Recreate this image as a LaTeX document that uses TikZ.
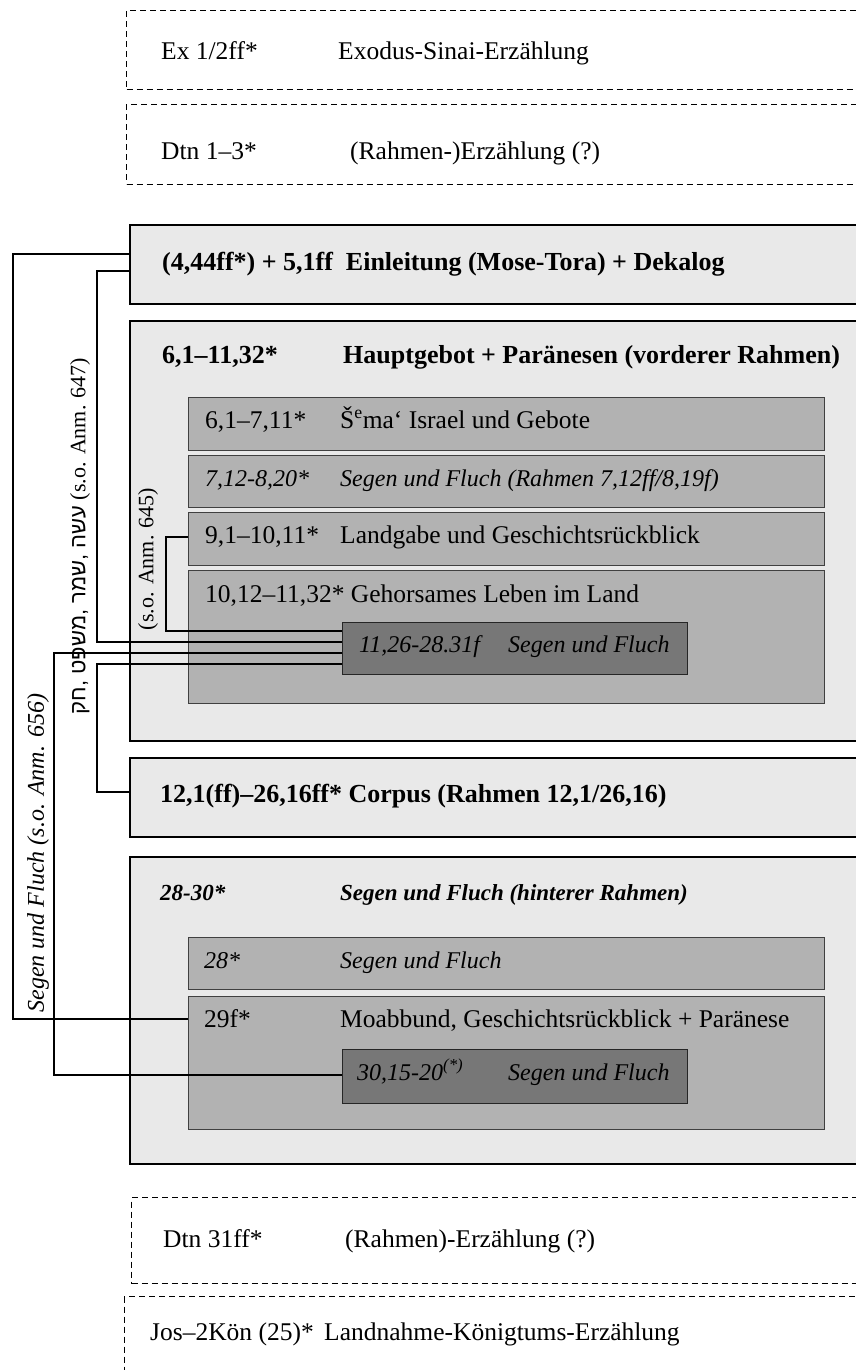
\documentclass[tikz,border=0pt]{standalone}
\usepackage{fontspec}
\setmainfont{Liberation Serif}
\newfontfamily\hebfont[Script=Hebrew]{Liberation Sans}
\TeXXeTstate=1
\definecolor{colOuter}{RGB}{233,233,233}
\definecolor{colInner}{RGB}{178,178,178}
\definecolor{colCore}{RGB}{119,119,119}

\begin{document}
\begin{tikzpicture}[
    x=1pt, y=-1pt,
    every node/.style={inner sep=0pt},
    dashbox/.style={draw, dash pattern=on 6pt off 4pt, line width=1pt, anchor=north west, minimum width=800pt},
    outer/.style={draw, line width=2pt, fill=colOuter, anchor=north west, minimum width=800pt},
    inner/.style={draw=black!75, line width=1pt, fill=colInner, anchor=north west, minimum width=636pt},
    core/.style={draw=black!85, line width=1pt, fill=colCore, anchor=north west, minimum width=345pt},
    txt/.style={anchor=base west, font=\fontsize{25.5}{30}\selectfont},
    itx/.style={anchor=base west, font=\fontsize{24}{28}\selectfont\itshape},
    bfx/.style={anchor=base west, font=\fontsize{26}{30}\selectfont\bfseries},
    bix/.style={anchor=base west, font=\fontsize{23}{27}\selectfont\bfseries\itshape},
    conn/.style={line width=2pt}
]
    \clip (0,0) rectangle (856,1370);

    % narrative frames
    \node[dashbox, minimum height=79pt] (exo) at (126,10) {};
    \node[dashbox, minimum height=80pt] (dtnA) at (126,104) {};
    \node[dashbox, minimum height=86pt] (dtnB) at (131,1197) {};
    \node[dashbox, minimum height=90pt] (jos) at (124,1296) {};

    % main blocks
    \node[outer, minimum height=79pt] (einl) at (129,224) {};
    \node[outer, minimum height=420pt] (haupt) at (129,320) {};
    \node[outer, minimum height=79pt] (corp) at (129,757) {};
    \node[outer, minimum height=307pt] (hint) at (129,856) {};

    \foreach \n/\y/\h in {sema/397/53, segA/455/52, land/512/53, geh/570/133, segB/937/52, moab/996/133} {
        \node[inner, minimum height=\h pt] (\n) at (188,\y) {};
    }
    \node[core, minimum height=52pt] (fluchA) at (342,622) {};
    \node[core, minimum height=54pt] (fluchB) at (342,1049) {};

    % texts
    \node[txt] (exoN) at (161,60) {Ex 1/2ff*};
    \node[txt] (exoT) at (338,60) {Exodus-Sinai-Erzählung};
    \node[txt] (dtnAN) at (161,160) {Dtn 1–3*};
    \node[txt] (dtnAT) at (350,160) {(Rahmen-)Erzählung (?)};
    \node[bfx] (einlT) at (162,270) {(4,44ff*) + 5,1ff\ \ Einleitung (Mose-Tora) + Dekalog};
    \node[bfx] (hauptN) at (162,363) {6,1–11,32*};
    \node[bfx] (hauptT) at (343,363) {Hauptgebot + Paränesen (vorderer Rahmen)};
    \node[txt] (semaN) at (205,428) {6,1–7,11*};
    \node[txt] (semaT) at (340,428) {Š\textsuperscript{e}ma‘ Israel und Gebote};
    \node[itx] (segAN) at (205,486) {7,12-8,20*};
    \node[itx] (segAT) at (340,486) {Segen und Fluch (Rahmen 7,12ff/8,19f)};
    \node[txt] (landN) at (205,543) {9,1–10,11*};
    \node[txt] (landT) at (340,543) {Landgabe und Geschichtsrückblick};
    \node[txt] (gehT) at (205,602) {10,12–11,32* Gehorsames Leben im Land};
    \node[itx] (fluchAN) at (359,652) {11,26-28.31f};
    \node[itx] (fluchAT) at (508,652) {Segen und Fluch};
    \node[bfx] (corpT) at (160,802) {12,1(ff)–26,16ff* Corpus (Rahmen 12,1/26,16)};
    \node[bix] (hintN) at (160,900) {28-30*};
    \node[bix] (hintT) at (340,900) {Segen und Fluch (hinterer Rahmen)};
    \node[itx] (segBN) at (204,968) {28*};
    \node[itx] (segBT) at (340,968) {Segen und Fluch};
    \node[txt] (moabN) at (204,1027) {29f*};
    \node[txt] (moabT) at (340,1027) {Moabbund, Geschichtsrückblick + Paränese};
    \node[itx] (fluchBN) at (357,1080) {30,15-20\textsuperscript{(*)}};
    \node[itx] (fluchBT) at (508,1080) {Segen und Fluch};
    \node[txt] (dtnBN) at (163,1247) {Dtn 31ff*};
    \node[txt] (dtnBT) at (345,1247) {(Rahmen)-Erzählung (?)};
    \node[txt] (josN) at (150,1340) {Jos–2Kön (25)*};
    \node[txt] (josT) at ([xshift=10pt]josN.base east) {Landnahme-Königtums-Erzählung};

    % side notes
    \node[rotate=90, font=\fontsize{24}{28}\selectfont\itshape] (n656) at (38,853) {Segen und Fluch (s.o. Anm. 656)};
    \node[rotate=90, font=\fontsize{22}{26}\selectfont] (n647) at (80,536)
        {{\hebfont\beginR חק\endR, \beginR משפט\endR, \beginR שמר\endR, \beginR עשה\endR} (s.o. Anm. 647)};
    \node[rotate=90, font=\fontsize{22}{26}\selectfont] (n645) at (148,559) {(s.o. Anm. 645)};

    % cross references
    \draw[conn] (einl.west |- 0,254) -| (13,1019) -- (moab.west |- 0,1019);
    \draw[conn] (einl.west |- 0,271) -| (97,642) -- (fluchA.west |- 0,642);
    \draw[conn] (land.west |- 0,537) -| (166,631) -- (fluchA.west |- 0,631);
    \draw[conn] (fluchA.west |- 0,653) -| (54,1075) -- (fluchB.west |- 0,1075);
    \draw[conn] (fluchA.west |- 0,664) -| (97,792) -- (corp.west |- 0,792);
\end{tikzpicture}
\end{document}
